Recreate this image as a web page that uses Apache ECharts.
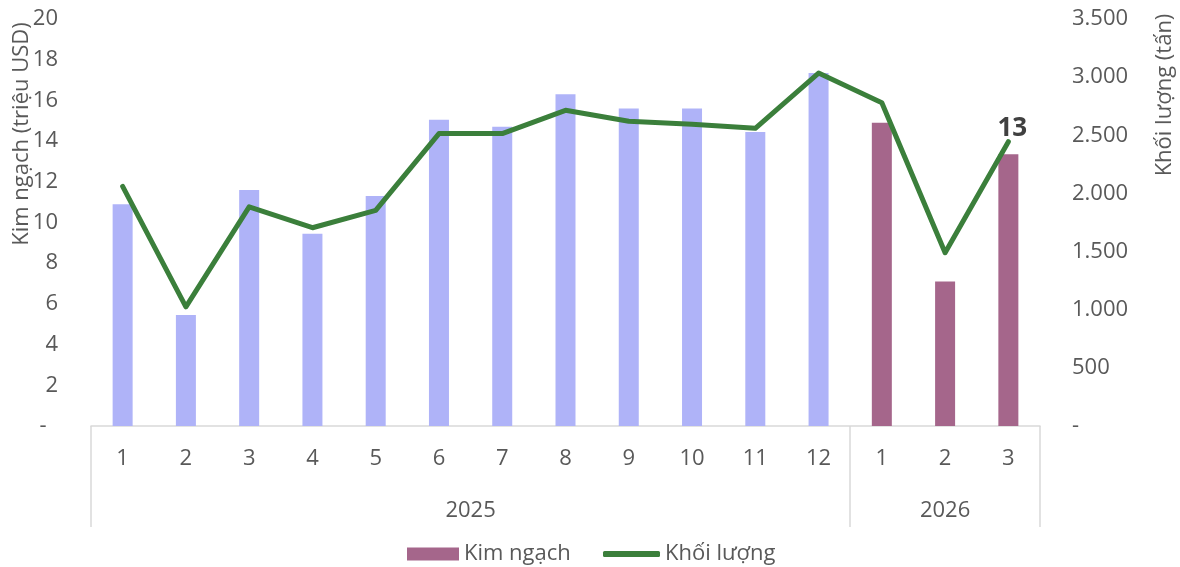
<!DOCTYPE html>
<html>
<head>
<meta charset="utf-8">
<script src="https://cdn.jsdelivr.net/npm/echarts@6/dist/echarts.min.js"></script>
<style>
  html, body { margin: 0; padding: 0; background: #fff; }
  #chart { width: 1180px; height: 567px; }
</style>
</head>
<body>
<div id="chart"></div>
<script>
// Months shown on the category axis, grouped by year
const months = ['1','2','3','4','5','6','7','8','9','10','11','12','1','2','3'];
const years = ['2025', '2026'];
const yearMonthCounts = [12, 3];

// Export value (million USD) and volume (tonnes) per month
const kimNgach = [10.9, 5.45, 11.6, 9.45, 11.3, 15.05, 14.7, 16.3, 15.6, 15.6, 14.45, 17.35, 14.9, 7.1, 13.35];
const khoiLuong = [2060, 1025, 1885, 1705, 1855, 2515, 2515, 2715, 2620, 2595, 2560, 3035, 2780, 1490, 2445];

// Axis ticks
const leftMax = 20, leftStep = 2;
const rightMax = 3500, rightStep = 500;

const textColor = '#595959';
const fontFamily = '"Open Sans", "Noto Sans", sans-serif';
const colorOld = '#afb3f8';
const colorNew = '#a5668b';
const lineColor = '#3b7f3b';

// Year group boundaries and centres on a 0..N scale
const bounds = [0];
yearMonthCounts.forEach(c => bounds.push(bounds[bounds.length - 1] + c));
const centers = yearMonthCounts.map((c, i) => bounds[i] + c / 2);

const barData = kimNgach.map((v, i) => {
  const item = { value: v, itemStyle: { color: i < yearMonthCounts[0] ? colorOld : colorNew } };
  if (i === kimNgach.length - 1) {
    item.label = {
      show: true, position: 'top', distance: 13, offset: [4, 0],
      formatter: p => Math.round(p.value).toString(),
      fontSize: 26, fontWeight: 'bold', color: '#404040', fontFamily: fontFamily
    };
  }
  return item;
});

const fmtThousands = v => v === 0 ? '-' : String(v).replace(/\B(?=(\d{3})+(?!\d))/g, '.');

const legendText = { fontSize: 22, color: textColor, fontFamily: fontFamily };

const chart = echarts.init(document.getElementById('chart'));
chart.setOption({
  animation: false,
  textStyle: { fontFamily: fontFamily },
  grid: { left: 91, right: 140, top: 19, bottom: 141, containLabel: false, outerBoundsMode: 'none' },
  legend: [
    {
      left: 402, top: 538, itemWidth: 52, itemHeight: 13, itemGap: 0,
      textStyle: legendText,
      data: [{ name: 'Kim ngạch', icon: 'rect', itemStyle: { color: colorNew } }]
    },
    {
      left: 598, top: 538, itemWidth: 57, itemHeight: 6, itemGap: 0,
      textStyle: legendText,
      data: [{ name: 'Khối lượng', icon: 'roundRect', itemStyle: { color: lineColor } }]
    }
  ],
  xAxis: [
    {
      type: 'category', data: months, position: 'bottom',
      axisLine: { show: true, lineStyle: { color: '#d9d9d9', width: 1.5 } },
      axisTick: { show: false },
      axisLabel: { fontSize: 22, color: textColor, margin: 22, fontFamily: fontFamily, interval: 0 }
    },
    {
      type: 'value', position: 'bottom', min: 0, max: months.length,
      axisLine: { show: false },
      splitLine: { show: false },
      axisTick: { show: true, inside: false, length: 101, customValues: bounds, lineStyle: { color: '#d9d9d9', width: 1.5 } },
      axisLabel: {
        show: true, customValues: centers, margin: 74, fontSize: 22, color: textColor, fontFamily: fontFamily,
        formatter: v => years[centers.indexOf(v)]
      }
    }
  ],
  yAxis: [
    {
      type: 'value', min: 0, max: leftMax, interval: leftStep,
      axisLine: { show: false }, axisTick: { show: false }, splitLine: { show: false },
      axisLabel: { fontSize: 22, color: textColor, margin: 33, fontFamily: fontFamily,
        formatter: v => v === 0 ? '-  ' : String(v) }
    },
    {
      type: 'value', min: 0, max: rightMax, interval: rightStep, position: 'right',
      axisLine: { show: false }, axisTick: { show: false }, splitLine: { show: false },
      axisLabel: { fontSize: 22, color: textColor, margin: 32, fontFamily: fontFamily, formatter: fmtThousands }
    }
  ],
  graphic: [
    {
      type: 'text', x: 22, y: 134, rotation: Math.PI / 2,
      style: { text: 'Kim ngạch (triệu USD)', fill: textColor, fontSize: 22, fontFamily: fontFamily,
        textAlign: 'center', textVerticalAlign: 'middle' }
    },
    {
      type: 'text', x: 1165, y: 95, rotation: Math.PI / 2,
      style: { text: 'Khối lượng (tấn)', fill: textColor, fontSize: 22, fontFamily: fontFamily,
        textAlign: 'center', textVerticalAlign: 'middle' }
    }
  ],
  series: [
    {
      name: 'Kim ngạch', type: 'bar', xAxisIndex: 0, yAxisIndex: 0,
      barWidth: 20, data: barData, itemStyle: { color: colorNew }
    },
    {
      name: 'Khối lượng', type: 'line', xAxisIndex: 0, yAxisIndex: 1,
      data: khoiLuong, showSymbol: false, symbol: 'none',
      lineStyle: { color: lineColor, width: 5, cap: 'round', join: 'round' },
      itemStyle: { color: lineColor }
    }
  ]
});
</script>
</body>
</html>
